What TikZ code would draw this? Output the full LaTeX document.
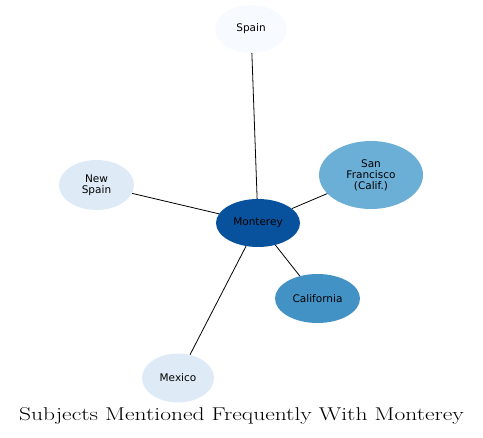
\documentclass[tikz,border=0pt]{standalone}
\usepackage{fontspec}
\newfontfamily\labelfont{DejaVu Sans}
\usetikzlibrary{shapes.geometric}

\definecolor{blueA}{HTML}{F7FBFF}
\definecolor{blueB}{HTML}{DEEBF7}
\definecolor{blueC}{HTML}{6BAED6}
\definecolor{blueD}{HTML}{4292C6}
\definecolor{blueE}{HTML}{08519C}

\tikzset{
  subject/.style={ellipse,inner sep=0pt,align=center,
    font=\labelfont\fontsize{10.5}{11}\selectfont},
  link/.style={black,line width=0.8pt}
}

\begin{document}
\begin{tikzpicture}[x=1pt,y=-1pt]
  \useasboundingbox (0,0) rectangle (483,438);
  \node[subject,fill=blueE,minimum width=84pt,minimum height=48pt] (monterey) at (258,223) {Monterey};
  \node[subject,fill=blueA,minimum width=72pt,minimum height=48pt] (spain) at (251,29) {Spain};
  \node[subject,fill=blueC,minimum width=104pt,minimum height=68pt] (sanfrancisco) at (371,175) {San\\Francisco\\(Calif.)};
  \node[subject,fill=blueB,minimum width=75pt,minimum height=50pt] (newspain) at (96.5,185) {New\\Spain};
  \node[subject,fill=blueD,minimum width=85pt,minimum height=49pt] (california) at (317.5,298.5) {California};
  \node[subject,fill=blueB,minimum width=72pt,minimum height=49pt] (mexico) at (178,378) {Mexico};
  \draw[link] (monterey) -- (spain);
  \draw[link] (monterey) -- (sanfrancisco);
  \draw[link] (monterey) -- (newspain);
  \draw[link] (monterey) -- (california);
  \draw[link] (monterey) -- (mexico);
  \node[font=\fontsize{18.5}{20}\selectfont,xscale=1.27,anchor=base] (title) at (241.5,421) {Subjects Mentioned Frequently With Monterey};
\end{tikzpicture}
\end{document}
